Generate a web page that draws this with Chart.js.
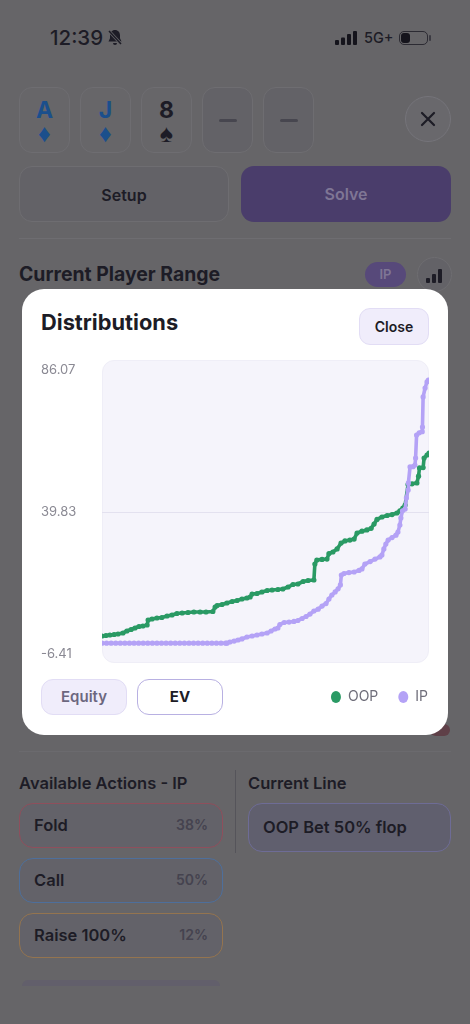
<!DOCTYPE html>
<html><head><meta charset="utf-8">
<script src="https://cdn.jsdelivr.net/npm/chart.js@4/dist/chart.umd.min.js"></script>
<style>
html,body{margin:0;padding:0;width:470px;height:1024px;overflow:hidden;background:#666568;font-family:Inter,sans-serif;color:#1d1c26}
.a{position:absolute;box-sizing:border-box}
.card{width:51px;height:66px;top:87px;border:1px solid #6e6d71;border-radius:13px;background:#676669;text-align:center}
.card b{display:block;font-size:23px;line-height:24px;margin-top:10px;font-weight:700}
.card i{display:block;font-style:normal;font-size:25px;line-height:24px;margin-top:-1px}
.dash{background:#636267}
.dash span{position:absolute;left:16px;top:31px;width:18px;height:3px;border-radius:2px;background:#47464f}
.btn{top:166px;height:56px;width:210px;border-radius:13px;font-weight:600;font-size:16px;line-height:56px;text-align:center}
.act{left:19px;width:204px;height:45px;border-radius:14px;background:#636269;font-weight:600;font-size:16.500px;line-height:42px;padding:0 14px}
.act em{float:right;font-style:normal;font-size:14px;color:#45434f}
.t{white-space:nowrap}
</style></head><body>
<div class="a t" style="left:50px;top:26px;font-size:20.500px;font-weight:500;line-height:24px">12:39</div>
<svg class="a" style="left:106px;top:29px" width="18" height="18" viewBox="0 0 18 18"><path d="M9 1c-3 0-5 2.300-5 5.200v3L2.500 12.500h13L14 9.200V6.200C14 3.300 12 1 9 1zM7 14a2 2 0 0 0 4 0z" fill="#1d1c26"/><path d="M3 2l12 13" stroke="#666568" stroke-width="3"/><path d="M3 2l12 13" stroke="#1d1c26" stroke-width="1.500"/></svg>
<svg class="a" style="left:334px;top:30px" width="24" height="16"><rect x="1" y="10" width="4" height="5" rx="1" fill="#15141c"/><rect x="7" y="7.500" width="4" height="7.500" rx="1" fill="#15141c"/><rect x="13" y="4" width="4" height="11" rx="1" fill="#15141c"/><rect x="19" y="1" width="4" height="14" rx="1" fill="#15141c"/></svg>
<div class="a t" style="left:364px;top:29px;font-size:14.500px;font-weight:500;line-height:18px">5G+</div>
<div class="a" style="left:399px;top:31px;width:29px;height:14px;border:1px solid #2c2b33;border-radius:5px"><div style="position:absolute;left:1px;top:1px;width:9px;height:10px;border-radius:3px;background:#15141c"></div></div>
<div class="a" style="left:429px;top:35px;width:2px;height:6px;background:#3b3a42;border-radius:1px"></div>

<div class="a card" style="left:19px;color:#1b4f8c"><b>A</b><i>♦</i></div>
<div class="a card" style="left:80px;color:#1b4f8c"><b>J</b><i>♦</i></div>
<div class="a card" style="left:141px"><b>8</b><i>♠</i></div>
<div class="a card dash" style="left:202px"><span></span></div>
<div class="a card dash" style="left:263px"><span></span></div>
<div class="a" style="left:405px;top:96px;width:46px;height:46px;border-radius:50%;border:1px solid #75747a;background:#69686c"></div>
<svg class="a" style="left:420px;top:111px" width="16" height="16"><path d="M2 2l12 12M14 2L2 14" stroke="#1d1c26" stroke-width="2.200" stroke-linecap="round"/></svg>
<div class="a btn" style="left:19px;border:1px solid #6e6d71;background:#636267">Setup</div>
<div class="a btn" style="left:241px;background:#4a3d6b;color:#7f7695">Solve</div>
<div class="a" style="left:19px;top:238px;width:432px;height:1px;background:#6e6d71"></div>
<div class="a t" style="left:19px;top:262px;font-size:19.400px;font-weight:700;line-height:24px">Current Player Range</div>
<div class="a t" style="left:365px;top:262px;width:41px;height:25px;border-radius:13px;background:#57497a;color:#7f7695;font-size:13px;font-weight:600;line-height:25px;text-align:center">IP</div>
<div class="a" style="left:417px;top:257px;width:35px;height:35px;border-radius:50%;background:#636267;border:1px solid #6e6d71"></div>
<svg class="a" style="left:425px;top:268px" width="18" height="16"><rect x="1" y="10" width="4" height="5" rx="1" fill="#1d1c26"/><rect x="7" y="6" width="4" height="9" rx="1" fill="#1d1c26"/><rect x="13" y="1" width="4" height="14" rx="1" fill="#1d1c26"/></svg>

<div class="a" style="left:430px;top:724px;width:20px;height:12px;border-radius:8px;background:#5f4048"></div>
<div class="a" style="left:22px;top:289px;width:426px;height:446px;border-radius:22px;background:#fff"></div>
<div class="a t" style="left:41px;top:308px;font-size:21.800px;font-weight:700;line-height:28px">Distributions</div>
<div class="a t" style="left:359px;top:308px;width:70px;height:37px;border-radius:11px;background:#f0edfb;border:1px solid #e2ddf5;font-size:14px;font-weight:600;line-height:35px;text-align:center">Close</div>
<div class="a" style="left:102px;top:360px;width:327px;height:303px;border-radius:12px;background:#f5f4fb;border:1px solid #efeef7"></div>
<div class="a t" style="left:41px;top:679px;width:86px;height:36px;border-radius:12px;background:#f0edfb;border:1px solid #e2ddf5;color:#6c677f;font-size:15px;font-weight:600;line-height:34px;text-align:center">Equity</div>
<div class="a t" style="left:137px;top:679px;width:86px;height:36px;border-radius:12px;background:#fff;border:1.500px solid #b8b0e2;font-size:15px;font-weight:700;line-height:33px;text-align:center">EV</div>
<canvas id="c" class="a" style="left:30px;top:350px;width:410px;height:370px"></canvas>

<div class="a" style="left:19px;top:751px;width:432px;height:1px;background:#6b6a6e"></div>
<div class="a t" style="left:19px;top:773px;font-size:16.500px;font-weight:600;line-height:20px">Available Actions - IP</div>
<div class="a" style="left:235px;top:770px;width:1px;height:83px;background:#55545a"></div>
<div class="a t" style="left:248px;top:773px;font-size:16.500px;font-weight:600;line-height:20px">Current Line</div>
<div class="a act" style="top:803px;border:1.500px solid #8f4f5c">Fold<em>38%</em></div>
<div class="a act" style="top:858px;border:1.500px solid #4e6f9b">Call<em>50%</em></div>
<div class="a act" style="top:913px;border:1.500px solid #94744f">Raise 100%<em>12%</em></div>
<div class="a" style="left:248px;top:803px;width:203px;height:49px;border-radius:14px;background:#605f6e;border:1.500px solid #6e6c96;font-weight:600;font-size:16.500px;line-height:47px;padding-left:14px">OOP Bet 50% flop</div>
<div class="a" style="left:22px;top:980px;width:198px;height:6px;border-radius:14px 14px 0 0;background:#625f6b"></div>

<script>
const seriesNames = ["OOP", "IP"];
const yTicks = [-6.41, 39.83, 86.07];
const yRange = [-9.34, 89.33];
const oopX = [0,1.2,2.4,3.7,4.9,6.4,7.6,8.9,10.1,11.3,12.5,13.8,14.1,15.3,16.8,18.3,19.9,21.4,22.9,24.5,26.3,28.1,30,31.8,33.9,34.6,35.2,36.7,38.2,39.8,41.3,42.8,44.3,45.3,45.9,47.4,48.9,50.5,52,53.8,55.3,56.9,58.4,59.9,61.5,63,64.8,65.1,65.7,67.3,68.8,69.4,70.6,71.9,73.1,74.3,75.8,77.1,78,79.5,81,82.3,83.2,84.1,85.6,87.2,88.7,90.2,91.1,92,92.7,93.6,94.8,96.3,96.8,97.1,98.2,98.5,99.4,100];
const oopY = [-0.55,-0.38,-0.22,-0.06,0.11,0.43,1.08,1.57,2.06,2.55,2.71,3.04,4.67,4.99,5.32,5.48,5.97,6.29,6.78,6.95,7.11,7.27,7.27,7.27,7.43,8.9,9.39,9.71,10.2,10.69,11.02,11.5,11.83,12.15,13.13,13.29,13.78,14.27,14.43,14.6,14.76,15.41,16.22,16.39,17.2,17.53,17.69,22.9,24.2,24.4,24.5,26.3,26.8,27.8,29.7,30.4,30.7,31,33,33.6,34,34.5,35.9,37.4,38.2,38.7,39,39.5,40.2,41.1,42.1,48.8,49,49.3,51.5,54.2,54.3,57.4,58.4,59];
const ipX = [0,1.4,2.8,4.2,5.6,7,8.4,9.8,11.2,12.6,14,15.4,16.8,18.2,19.6,21,22.4,23.8,25.2,26.6,28,29.4,30.8,32.2,33.6,35,36.4,37.8,38.2,39.1,40.4,41.6,42.8,44.3,45.9,47.4,48.9,50.5,51.7,52.9,53.8,54.4,55.7,57.2,58.7,59.9,61.2,62.4,63.6,64.8,66.1,67.3,68.5,69.4,70.3,71.3,72.2,72.9,73.2,74,75.5,77.1,78.6,79.5,80.4,82,83.5,85,85.6,86.2,86.8,87.5,88.7,89.9,90.5,91.1,91.4,91.9,92.7,93.1,93.6,93.7,94.2,95.1,95.7,95.9,96.2,97,97.9,98,98.2,98.8,99.4,99.8];
const ipY = [-2.9,-2.9,-2.9,-2.9,-2.9,-2.9,-2.9,-2.9,-2.9,-2.9,-2.9,-2.9,-2.9,-2.9,-2.9,-2.9,-2.9,-2.9,-2.9,-2.9,-2.9,-2.9,-2.9,-2.9,-2.9,-2.9,-2.9,-2.9,-2.9,-2.5,-2.2,-1.85,-1.5,-0.87,-0.55,-0.22,0.11,0.43,1.08,1.73,2.06,3.2,3.85,4,4.2,4.5,5.15,5.8,6.6,7.6,8.2,9.2,10,11.5,12.8,13.8,14.8,16.1,19.3,19.8,20.1,20.3,20.8,21.3,22.9,23.7,24.5,25.2,25.8,27.8,29.4,30.7,31.5,32.3,33.3,35.6,37.9,40.2,40.8,44.4,47,49.3,54.5,54.6,55.1,57.4,64.9,65.6,66,67.5,77.3,80.2,82.2,82.8];

const zip = (xs, ys) => xs.map((x, i) => ({x, y: ys[i]}));
const legendShift = { id: "legendShift", afterLayout(chart) {
  const l = chart.legend; l.left += 19; l.right += 19; l.top += 7; l.bottom += 7;
}};
new Chart(document.getElementById("c"), {
  type: "scatter",
  plugins: [legendShift],
  data: { datasets: [
    { label: seriesNames[0], data: zip(oopX, oopY), showLine: true, borderColor: "#2a9a64", backgroundColor: "#2a9a64", borderWidth: 3.6, pointRadius: 2.6, pointBorderWidth: 0, order: 1 },
    { label: seriesNames[1], data: zip(ipX, ipY), showLine: true, borderColor: "#b4a2f6", backgroundColor: "#b4a2f6", borderWidth: 3.6, pointRadius: 2.6, pointBorderWidth: 0, order: 0 }
  ]},
  options: {
    responsive: false, animation: false,
    layout: { padding: { left: 11, right: 11, top: 10, bottom: 13 } },
    plugins: {
      tooltip: { enabled: false },
      legend: { position: "bottom", align: "end",
        labels: { sort: (a, b) => a.datasetIndex - b.datasetIndex, usePointStyle: true, pointStyle: "circle", boxWidth: 8.5, boxHeight: 8.5, pointStyleWidth: 10, padding: 20, color: "#6f6e7a", font: { family: "Inter", size: 14 } } }
    },
    scales: {
      x: { type: "linear", min: 0, max: 100, display: false },
      y: { type: "linear", min: yRange[0], max: yRange[1],
        afterBuildTicks: s => { s.ticks = yTicks.map(v => ({value: v})); },
        afterFit: s => { s.width = 61; },
        border: { display: false },
        grid: { drawTicks: false, color: c => c.tick && c.tick.value === yTicks[1] ? "#e3e1ef" : "transparent" },
        ticks: { autoSkip: false, crossAlign: "far", padding: 0, color: "#8a8993", font: { family: "Inter", size: 13 }, callback: v => v.toFixed(2) }
      }
    }
  }
});
</script>
</body></html>
